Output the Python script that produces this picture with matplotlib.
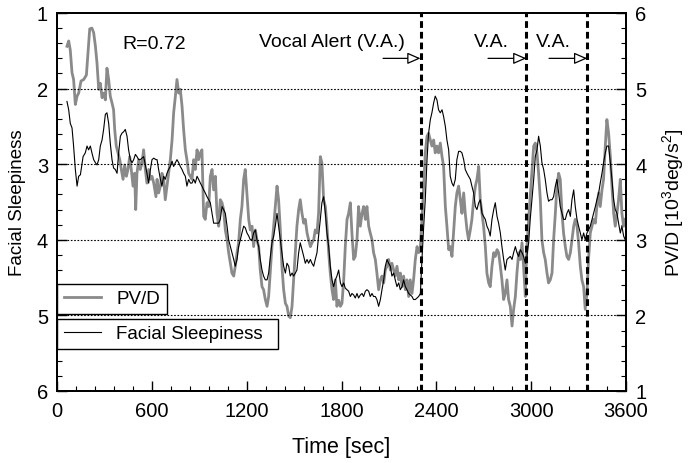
import matplotlib
matplotlib.use("Agg")
import matplotlib.pyplot as plt
from matplotlib.ticker import MultipleLocator
from matplotlib.lines import Line2D

plt.rcParams['font.family'] = ['Liberation Sans', 'DejaVu Sans']
plt.rcParams['mathtext.fontset'] = 'custom'
plt.rcParams['mathtext.rm'] = 'Liberation Sans'
plt.rcParams['mathtext.it'] = 'Liberation Sans:italic'

# ---- data ----
t_pvd = [63, 74, 84, 95, 105, 116, 127, 137, 152, 169, 186, 196, 207, 221, 232, 243, 253, 264, 274, 285,
         295, 306, 316, 327, 337, 348, 358, 365, 375, 386, 397, 407, 418, 428, 439, 449, 460, 470, 481, 491,
         498, 506, 517, 527, 538, 548, 559, 569, 580, 591, 601, 612, 626,
         633, 643, 654, 664, 675, 685, 696, 706, 717, 728, 738, 749, 759, 770, 780, 791, 801, 812, 822, 833,
         844, 854, 865, 875, 886, 896, 907, 917, 928, 938, 949, 960, 970, 981, 991, 1002, 1012, 1023, 1033,
         1044, 1054, 1065, 1076, 1086, 1097, 1107, 1118, 1128, 1139, 1149, 1160, 1170, 1181, 1191, 1202,
         1213, 1223,
         1234, 1244, 1255, 1265, 1276, 1286, 1297, 1307, 1318, 1329, 1339, 1350, 1360, 1371, 1381, 1392,
         1402, 1413, 1423, 1434, 1445, 1455, 1466, 1476, 1487, 1497, 1508, 1518, 1529, 1539, 1550, 1561,
         1571, 1582, 1592, 1603, 1613, 1624, 1634, 1645, 1655, 1666, 1676, 1687, 1698, 1708, 1719, 1729,
         1740, 1750, 1761, 1771, 1782, 1793, 1803,
         1814, 1824, 1835, 1845, 1856, 1866, 1877, 1887, 1898, 1908, 1919, 1930, 1940, 1951, 1961, 1972,
         1982, 1993, 2003, 2014, 2024, 2035, 2046, 2056, 2067, 2077, 2088, 2098, 2109, 2119, 2130, 2140,
         2151, 2162, 2172, 2183, 2193, 2204, 2214, 2225, 2235, 2246, 2256, 2267, 2278, 2288, 2299, 2309,
         2320, 2330, 2341, 2351, 2362, 2372, 2383, 2393, 2404, 2414, 2425, 2436,
         2446, 2457, 2467, 2478, 2488, 2499, 2509, 2520, 2530, 2541, 2552, 2562, 2573, 2583, 2594, 2604,
         2615, 2625, 2636, 2647, 2657, 2668, 2678, 2689, 2699, 2710, 2720, 2731, 2741, 2752, 2763, 2773,
         2784, 2794, 2805, 2815, 2826, 2836, 2847, 2857, 2868, 2879, 2889, 2900, 2910, 2921, 2931, 2942,
         2952, 2963, 2973, 2984, 2994, 3005, 3016, 3026, 3037,
         3047, 3058, 3068, 3079, 3089, 3100, 3110, 3121, 3132, 3142, 3153, 3163, 3174, 3184, 3195, 3205,
         3216, 3226, 3237, 3248, 3258, 3269, 3279, 3290, 3300, 3311, 3321, 3332, 3342, 3353, 3363, 3374,
         3385, 3395, 3406, 3416, 3427, 3437, 3448, 3458, 3469, 3479, 3490, 3501, 3511, 3522, 3532, 3543,
         3553, 3564, 3574, 3585, 3595]
pvd = [5.56, 5.63, 5.51, 5.21, 5.12, 4.79, 4.90, 4.94, 5.10, 5.12, 5.18, 5.47, 5.79, 5.80, 5.74, 5.56, 5.34,
       4.99, 5.07, 4.88, 4.94, 4.85, 5.27, 5.12, 4.90, 4.81, 4.72, 4.46, 4.24, 4.15, 4.06, 3.93, 3.80, 3.99,
       3.84, 3.93, 4.10, 3.93, 3.71, 3.88, 3.40, 3.88, 4.06, 3.93, 4.02, 4.19, 3.93, 3.75, 3.93, 3.80, 3.84,
       3.75, 3.57,
       3.80, 3.62, 3.71, 3.88, 3.80, 3.53, 3.71, 3.88, 4.06, 4.32, 4.68, 4.90, 5.12, 4.94, 4.99, 4.77, 4.46,
       4.19, 4.06, 3.88, 3.84, 3.80, 4.06, 3.93, 4.19, 4.06, 4.15, 4.19, 3.31, 3.27, 3.49, 3.44, 3.84, 3.93,
       3.66, 3.84, 3.35, 3.18, 3.53, 3.49, 3.40, 3.13, 3.00, 2.83, 2.69, 2.56, 2.52, 2.65, 2.83, 2.96, 3.27,
       3.44, 3.80, 3.93, 3.60, 3.27, 3.13,
       3.18, 2.91, 3.13, 3.00, 2.91, 2.60, 2.38, 2.34, 2.21, 2.12, 2.25, 2.60, 2.91, 3.18, 3.44, 3.71, 3.53,
       3.13, 2.65, 2.34, 2.16, 2.12, 1.99, 1.97, 2.12, 2.47, 2.83, 3.18, 3.40, 3.53, 3.35, 3.22, 3.27, 3.09,
       3.00, 2.91, 2.96, 3.00, 3.13, 3.09, 3.35, 4.10, 4.02, 3.53, 3.44, 3.18, 2.83, 2.56, 2.34, 2.21, 2.47,
       2.12, 2.20, 2.12, 2.16,
       2.47, 2.91, 3.27, 3.35, 3.49, 3.09, 2.74, 2.78, 3.00, 3.44, 3.18, 3.35, 3.44, 3.27, 3.44, 3.18, 3.09,
       3.00, 2.83, 2.74, 2.56, 2.34, 2.47, 2.52, 2.43, 2.60, 2.65, 2.74, 2.60, 2.69, 2.60, 2.52, 2.65, 2.47,
       2.56, 2.38, 2.52, 2.34, 2.47, 2.25, 2.47, 2.29, 2.47, 2.74, 2.91, 2.83, 2.91, 3.27, 3.71, 4.15, 4.37,
       4.41, 4.32, 4.24, 4.32, 4.15, 4.24, 4.15, 4.28, 4.10,
       3.97, 3.44, 3.18, 2.87, 2.91, 2.78, 3.09, 3.44, 3.62, 3.71, 3.53, 3.35, 3.62, 3.35, 3.13, 3.00, 3.13,
       3.27, 3.53, 3.71, 3.80, 3.97, 3.53, 3.35, 3.18, 2.91, 2.56, 2.43, 2.38, 2.65, 2.83, 2.78, 2.87, 2.83,
       2.65, 2.47, 2.21, 2.29, 2.47, 2.21, 2.12, 1.86, 2.08, 2.25, 2.56, 2.83, 2.74, 2.96, 2.65, 2.25, 2.91,
       3.27, 3.57, 3.88, 4.24, 4.28, 4.15,
       3.88, 3.53, 3.00, 2.83, 2.74, 2.56, 2.43, 2.47, 2.56, 3.00, 3.35, 3.71, 3.88, 3.80, 3.35, 3.09, 2.91,
       2.78, 2.74, 2.83, 3.00, 3.18, 3.27, 3.18, 2.96, 2.65, 2.47, 2.38, 2.08, 2.29, 2.74, 3.09, 3.18, 3.27,
       3.22, 3.44, 3.62, 3.44, 3.66, 3.80, 4.24, 4.59, 4.41, 4.10, 3.71, 3.35, 3.18, 3.35, 3.53, 3.80, 3.35,
       3.18, 3.27]

t_face = [63, 74, 84, 95, 105, 116, 127, 137, 148, 165, 179, 190, 200, 211, 221, 232, 243, 253, 264, 274,
          285, 295, 306, 316, 327, 337, 348, 358, 369, 380, 390, 401, 411, 422, 432, 443, 453, 464, 475, 485,
          496, 506, 517, 527, 538, 548, 559, 569, 580, 591, 601, 612, 626,
          633, 643, 654, 664, 675, 685, 696, 706, 717, 728, 738, 749, 759, 770, 780, 791, 801, 812, 822, 833,
          844, 854, 865, 875, 886, 896, 907, 917, 928, 938, 949, 960, 970, 981, 991, 1002, 1012, 1023, 1033,
          1044, 1054, 1065, 1076, 1086, 1097, 1107, 1118, 1128, 1139, 1149, 1160, 1170, 1181, 1191, 1202,
          1213, 1223, 1234,
          1244, 1255, 1265, 1276, 1286, 1297, 1307, 1318, 1329, 1339, 1350, 1360, 1371, 1381, 1392, 1402,
          1413, 1423, 1434, 1445, 1455, 1466, 1476, 1487, 1497, 1508, 1518, 1529, 1539, 1550, 1561, 1571,
          1582, 1592, 1603, 1613, 1624, 1634, 1645, 1655, 1666, 1676, 1687, 1698, 1708, 1719, 1729, 1740,
          1750, 1761, 1771, 1782, 1793, 1803, 1814, 1824, 1835,
          1845, 1856, 1866, 1877, 1887, 1898, 1908, 1919, 1930, 1940, 1951, 1961, 1972, 1982, 1993, 2003,
          2014, 2024, 2035, 2046, 2056, 2067, 2077, 2088, 2098, 2109, 2119, 2130, 2140, 2151, 2162, 2172,
          2183, 2193, 2204, 2214, 2225, 2235, 2246, 2256, 2267, 2278, 2288, 2299, 2309, 2320, 2330, 2341,
          2351, 2362, 2372, 2383, 2393, 2404, 2414, 2425, 2436,
          2446, 2457, 2467, 2478, 2488, 2499, 2509, 2520, 2530, 2541, 2552, 2562, 2573, 2583, 2594, 2604,
          2615, 2625, 2636, 2647, 2657, 2668, 2678, 2689, 2699, 2710, 2720, 2731, 2741, 2752, 2763, 2773,
          2784, 2794, 2805, 2815, 2826, 2836, 2847, 2857, 2868, 2879, 2889, 2900, 2910, 2921, 2931, 2942,
          2952, 2963, 2973, 2984, 2994, 3005, 3016, 3026, 3037,
          3047, 3058, 3068, 3079, 3089, 3100, 3110, 3121, 3132, 3142, 3153, 3163, 3174, 3184, 3195, 3205,
          3216, 3226, 3237, 3248, 3258, 3269, 3279, 3290, 3300, 3311, 3321, 3332, 3342, 3353, 3363, 3374,
          3385, 3395, 3406, 3416, 3427, 3437, 3448, 3458, 3469, 3479, 3490, 3501, 3511, 3522, 3532, 3543,
          3553, 3564, 3574, 3585, 3595]
face = [2.17, 2.28, 2.46, 2.52, 2.76, 3.07, 3.29, 3.16, 3.14, 2.90, 2.85, 2.76, 2.81, 2.76, 2.85, 2.94, 2.98,
        3.01, 2.94, 2.76, 2.68, 2.54, 2.34, 2.32, 2.46, 2.72, 2.94, 3.05, 3.07, 3.12, 2.85, 2.63, 2.59, 2.57,
        2.54, 2.63, 2.81, 2.94, 2.98, 2.94, 2.87, 2.90, 2.94, 2.94, 2.92, 2.90, 3.01, 3.12, 3.25, 3.07, 2.94,
        2.92, 2.94,
        2.94, 3.07, 3.20, 3.29, 3.16, 3.20, 3.12, 3.07, 3.03, 2.96, 3.03, 2.98, 2.94, 2.98, 3.03, 3.07, 3.12,
        3.16, 3.29, 3.20, 3.25, 3.25, 3.20, 3.25, 3.16, 3.20, 3.25, 3.29, 3.34, 3.38, 3.43, 3.47, 3.51, 3.65,
        3.78, 3.78, 3.78, 3.78, 3.73, 3.56, 3.60, 3.65, 3.82, 4.00, 4.09, 4.17, 4.26, 4.35, 4.26, 4.09, 4.00,
        3.91, 3.82, 3.84, 3.91, 3.95, 4.00, 4.00,
        3.91, 3.87, 4.00, 4.09, 4.26, 4.40, 4.48, 4.53, 4.53, 4.44, 4.22, 4.04, 3.95, 3.82, 3.65, 3.82, 4.00,
        4.17, 4.35, 4.44, 4.31, 4.35, 4.48, 4.44, 4.48, 4.44, 4.40, 4.17, 4.04, 4.13, 4.22, 4.31, 4.26, 4.31,
        4.26, 4.31, 4.35, 4.26, 4.17, 3.95, 3.73, 3.51, 3.43, 3.65, 3.91, 4.09, 4.35, 4.53, 4.62, 4.53, 4.48,
        4.40, 4.57, 4.62, 4.57, 4.64, 4.66,
        4.68, 4.75, 4.71, 4.73, 4.77, 4.71, 4.77, 4.73, 4.71, 4.75, 4.68, 4.66, 4.68, 4.75, 4.71, 4.75, 4.75,
        4.79, 4.88, 4.79, 4.66, 4.53, 4.35, 4.26, 4.31, 4.35, 4.48, 4.44, 4.53, 4.62, 4.57, 4.66, 4.62, 4.53,
        4.62, 4.66, 4.71, 4.73, 4.75, 4.79, 4.79, 4.77, 4.75, 4.71, 4.26, 3.82, 3.47, 2.94, 2.59, 2.41, 2.32,
        2.19, 2.10, 2.15, 2.28, 2.32, 2.28,
        2.37, 2.50, 2.68, 2.81, 3.16, 3.25, 3.29, 3.20, 2.94, 2.83, 2.83, 2.85, 2.94, 3.07, 3.12, 3.16, 3.20,
        3.29, 3.38, 3.56, 3.60, 3.51, 3.47, 3.65, 3.69, 3.73, 3.82, 3.87, 3.95, 3.73, 3.60, 3.51, 3.69, 3.78,
        3.91, 4.09, 4.26, 4.40, 4.26, 4.24, 4.22, 4.26, 4.17, 4.09, 4.17, 4.22, 4.13, 4.17, 4.22, 4.31, 4.22,
        4.04, 3.73, 3.47, 3.20, 2.90, 2.81,
        2.63, 2.76, 2.98, 3.07, 3.20, 3.38, 3.49, 3.47, 3.47, 3.43, 3.29, 3.20, 3.38, 3.56, 3.65, 3.73, 3.73,
        3.65, 3.60, 3.69, 3.47, 3.34, 3.56, 3.73, 3.82, 3.91, 4.00, 3.91, 4.00, 3.91, 3.87, 3.82, 3.73, 3.65,
        3.56, 3.47, 3.38, 3.25, 3.12, 2.98, 2.85, 2.76, 2.76, 2.98, 3.20, 3.47, 3.60, 3.65, 3.78, 3.91, 3.82,
        3.95, 4.00]

alert_times = [2300, 2970, 3355]
alert_labels = ["Vocal Alert (V.A.)", "V.A.", "V.A."]
x_ticks = [0, 600, 1200, 1800, 2400, 3000, 3600]
y_ticks = [1, 2, 3, 4, 5, 6]

# ---- figure ----
fig = plt.figure(figsize=(6.91, 4.64), dpi=100)
ax = fig.add_axes([57/691, 1 - 392/464, 569/691, 378/464])
ax2 = ax.twinx()

ax.set_xlim(0, 3600)
ax.set_ylim(6, 1)
ax2.set_ylim(1, 6)

ax2.plot(t_pvd, pvd, color='#8a8a8a', lw=2.0, solid_joinstyle='round', zorder=2)
ax.plot(t_face, face, color='black', lw=0.8, zorder=3)

ax.set_zorder(ax2.get_zorder() + 1)
ax.patch.set_visible(False)

for yv in [2, 3, 4, 5]:
    ax.axhline(yv, color='black', lw=0.8, ls=(0, (1.5, 1.5)), zorder=1)

for xt in alert_times:
    ax.axvline(xt, color='black', lw=2.2, ls=(0, (2.2, 1.3)), zorder=5)

# ticks
ax.set_xticks(x_ticks)
ax.xaxis.set_minor_locator(MultipleLocator(120))
ax.set_yticks(y_ticks)
ax.yaxis.set_minor_locator(MultipleLocator(0.2))
ax2.set_yticks(y_ticks)
ax2.yaxis.set_minor_locator(MultipleLocator(0.2))
for a in (ax, ax2):
    a.tick_params(which='major', direction='in', length=7, width=1.0, labelsize=14.5, pad=6.5)
    a.tick_params(which='minor', direction='in', length=3.5, width=0.8)
ax.tick_params(axis='x', which='major', pad=7.5)
ax.tick_params(top=False, which='both')
ax2.tick_params(left=False, which='both')
for s in ax.spines.values():
    s.set_linewidth(1.3)
for s in ax2.spines.values():
    s.set_linewidth(1.3)

ax.set_xlabel('Time [sec]', fontsize=15.5, labelpad=11)
ax.set_ylabel('Facial Sleepiness', fontsize=13.5, labelpad=8)
ax2.set_ylabel('PV/D [10$^{3}$deg/s$^{2}$]', fontsize=14, labelpad=10)

# annotations
ax.text(411, 1.40, 'R=0.72', fontsize=14, ha='left', va='center')
text_right = [2202, 2860, 3252]
arrow_start = [2063, 2727, 3113]
for xt, lab, tr, xs in zip(alert_times, alert_labels, text_right, arrow_start):
    ax.text(tr, 1.38, lab, fontsize=14, ha='right', va='center')
    ax.annotate('', xy=(xt, 1.60), xytext=(xs, 1.60),
                arrowprops=dict(arrowstyle='-|>,head_length=0.8,head_width=0.35',
                                fc='white', ec='black', lw=0.9, shrinkA=0, shrinkB=0))

# legends (two separate boxes)
h1 = Line2D([], [], color='#8a8a8a', lw=2.0)
h2 = Line2D([], [], color='black', lw=0.8)
leg1 = ax.legend([h1], ['PV/D'], loc='lower left', bbox_to_anchor=(0, 0.204, 0.193, 0.092),
                 mode='expand', borderaxespad=0, fancybox=False, edgecolor='black', framealpha=1,
                 fontsize=13.5, handlelength=2.0, borderpad=0.35)
leg1.get_frame().set_linewidth(1.0)
ax.add_artist(leg1)
leg2 = ax.legend([h2], ['Facial Sleepiness'], loc='lower left', bbox_to_anchor=(0, 0.111, 0.388, 0.09),
                 mode='expand', borderaxespad=0, fancybox=False, edgecolor='black', framealpha=1,
                 fontsize=13.5, handlelength=2.0, borderpad=0.35)
leg2.get_frame().set_linewidth(1.0)
leg1.set_zorder(10)
leg2.set_zorder(10)

fig.savefig('out.png', dpi=100)
